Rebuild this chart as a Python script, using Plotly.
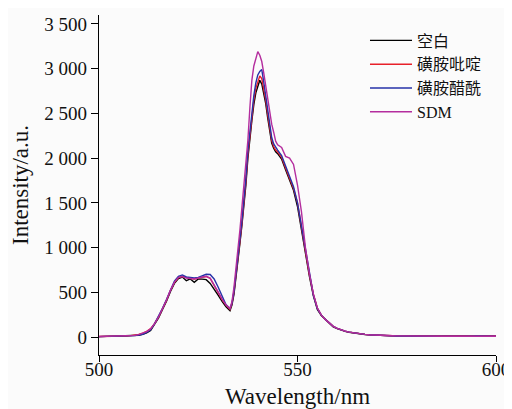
import plotly.graph_objects as go

# Wavelengths (nm): 1 nm steps, with 0.5 nm steps across the main peak
WAVELENGTH = (list(range(500, 533))
              + [533 + 0.5 * i for i in range(25)]
              + list(range(546, 602)))

# ---- 空白 (blank) ----
BLANK = [
    5, 6, 5, 7, 6, 8, 9, 10, 12, 15,          # 500-509
    20, 30, 48, 75, 140, 215, 310, 400, 510, 600,   # 510-519
    655, 672, 630, 650, 612, 650, 648, 642, 600, 540,  # 520-529
    470, 400, 340,                              # 530-532
    295, 360, 480, 650, 850, 1050, 1250, 1450, 1700, 2000,   # 533-537.5
    2230, 2420, 2600, 2730, 2800, 2870, 2830, 2730, 2610, 2450,  # 538-542.5
    2330, 2170, 2110, 2070, 2050,               # 543-545
    1990, 1870, 1750, 1640, 1460, 1200, 920, 680, 460, 310,  # 546-555
    240, 195, 150, 115, 95, 78, 64, 54, 46, 39,  # 556-565
    34, 29, 25, 22, 20, 18, 16, 15, 14, 14,      # 566-575
    13, 13, 12, 12, 13, 12, 12, 11, 12, 12,      # 576-585
    11, 12, 11, 12, 11, 12, 12, 11, 12, 12,      # 586-595
    11, 12, 12, 11, 12, 10,                      # 596-601
]

# ---- 磺胺吡啶 ----
SULFAPYRIDINE = [
    6, 6, 7, 8, 8, 9, 11, 13, 16, 20,
    30, 45, 65, 95, 150, 225, 315, 410, 520, 610,
    665, 680, 665, 660, 650, 660, 665, 678, 655, 585,
    500, 420, 355,
    310, 375, 500, 670, 870, 1070, 1270, 1480, 1740, 2040,
    2270, 2460, 2650, 2780, 2860, 2920, 2890, 2780, 2650, 2490,
    2360, 2200, 2130, 2090, 2070,
    2010, 1890, 1770, 1660, 1500, 1250, 960, 700, 480, 325,
    245, 198, 155, 120, 98, 80, 66, 55, 47, 40,
    35, 30, 26, 23, 21, 19, 17, 16, 15, 15,
    16, 14, 15, 16, 14, 15, 16, 14, 15, 15,
    14, 15, 16, 14, 15, 16, 15, 14, 15, 16,
    15, 16, 14, 15, 16, 12,
]

# ---- 磺胺醋酰 ----
SULFACETAMIDE = [
    5, 6, 6, 7, 7, 8, 9, 11, 13, 16,
    22, 32, 52, 82, 150, 228, 322, 420, 530, 625,
    680, 695, 672, 665, 660, 668, 685, 702, 700, 650,
    560, 450, 360,
    320, 380, 510, 690, 900, 1100, 1300, 1510, 1780, 2080,
    2310, 2500, 2700, 2840, 2930, 2970, 2990, 2850, 2700, 2530,
    2400, 2230, 2160, 2120, 2090,
    2030, 1910, 1790, 1680, 1500, 1240, 950, 690, 470, 320,
    245, 198, 155, 120, 98, 80, 66, 55, 47, 40,
    35, 30, 26, 23, 20, 18, 16, 15, 14, 13,
    12, 11, 10, 9, 10, 11, 10, 11, 10, 10,
    11, 10, 11, 10, 9, 10, 11, 10, 11, 12,
    11, 12, 11, 12, 13, 10,
]

# ---- SDM ----
SDM = [
    6, 7, 6, 8, 7, 9, 10, 12, 15, 19,
    28, 42, 62, 92, 150, 225, 318, 415, 525, 615,
    668, 676, 660, 655, 650, 660, 668, 680, 660, 590,
    505, 425, 360,
    320, 400, 560, 760, 1000, 1200, 1450, 1700, 1950, 2200,
    2560, 2870, 3030, 3110, 3190, 3150, 3080, 2950, 2800, 2660,
    2500, 2380, 2290, 2190, 2150,
    2120, 2020, 2000, 1930, 1700, 1400, 1000, 710, 480, 325,
    245, 198, 155, 120, 98, 80, 66, 55, 47, 40,
    35, 30, 26, 23, 21, 19, 17, 16, 15, 14,
    13, 12, 11, 12, 11, 10, 9, 10, 11, 10,
    9, 10, 11, 10, 9, 8, 9, 10, 11, 10,
    11, 10, 11, 12, 11, 9,
]

SERIES_NAMES = ["空白", "磺胺吡啶", "磺胺醋酰", "SDM"]
SERIES_COLORS = ["#000000", "#e8202a", "#2632a8", "#b42d9e"]
SERIES_VALUES = [BLANK, SULFAPYRIDINE, SULFACETAMIDE, SDM]

Y_TICKS = [0, 500, 1000, 1500, 2000, 2500, 3000, 3500]
Y_TICK_LABELS = ["0", "500", "1 000", "1 500", "2 000", "2 500", "3 000", "3 500"]
X_TICKS = [500, 550, 600]

FONT = "Liberation Serif, Times New Roman, Noto Sans CJK SC, serif"

fig = go.Figure()
for name, color, vals in zip(SERIES_NAMES, SERIES_COLORS, SERIES_VALUES):
    fig.add_trace(go.Scatter(x=WAVELENGTH, y=vals, mode="lines", name=name,
                             line=dict(color=color, width=1.4)))

fig.update_layout(
    width=504, height=401,
    margin=dict(l=91, r=16, t=7, b=54, autoexpand=False),
    paper_bgcolor="#fbfbfb", plot_bgcolor="#fbfbfb",
    font=dict(family=FONT, size=19, color="#111111"),
    showlegend=True,
    legend=dict(x=0.67, y=0.975, xanchor="left", yanchor="top",
                bgcolor="rgba(0,0,0,0)", font=dict(size=16, family=FONT),
                itemwidth=42, tracegroupgap=0),
)
fig.update_xaxes(range=[500, 600], tickvals=X_TICKS, ticks="outside", ticklen=6,
                 showline=True, linecolor="#000000", linewidth=1.2,
                 tickcolor="#000000", showgrid=False, zeroline=False,
                 automargin=False, ticklabelstandoff=-9,
                 title=dict(text="Wavelength/nm", standoff=8))
fig.update_yaxes(range=[-200, 3600], tickvals=Y_TICKS, ticktext=Y_TICK_LABELS,
                 ticks="outside", ticklen=7,
                 showline=True, linecolor="#000000", linewidth=1.2,
                 tickcolor="#000000", showgrid=False, zeroline=False,
                 automargin=False,
                 title=dict(text="Intensity/a.u.", standoff=9))

fig.write_html("out.html")
